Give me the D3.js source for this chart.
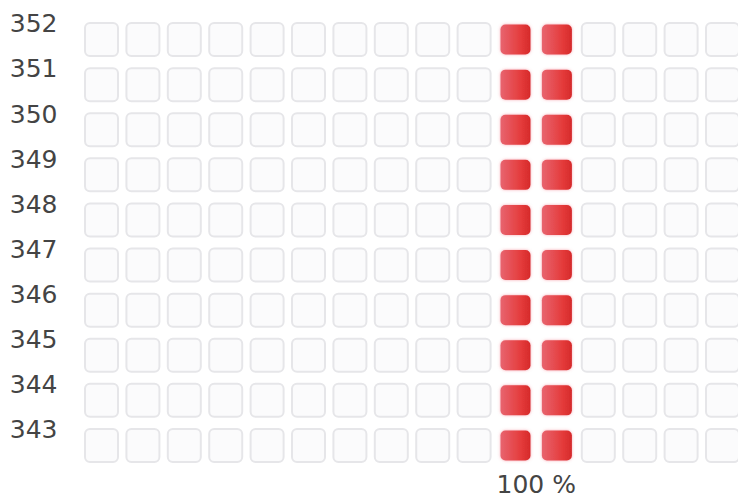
<!DOCTYPE html>
<html>
<head>
<meta charset="utf-8">
<script src="https://cdn.jsdelivr.net/npm/d3@7/dist/d3.min.js"></script>
<style>
  html, body { margin: 0; padding: 0; background: #fff; }
  svg { display: block; }
</style>
</head>
<body>
<div id="chart"></div>
<script>
// Rows (top to bottom) and percentage columns (each column is a 10 % slot, given by its lower bound)
const rowLabels = ["352", "351", "350", "349", "348", "347", "346", "345", "344", "343"];
const columnStarts = [-10, 0, 10, 20, 30, 40, 50, 60, 70, 80, 90, 100, 110, 120, 130, 140];
const columnWidth = 10;
// Slots that are filled, per row (the band around 100 %)
const filledStarts = [90, 100];
// Tick shown under the grid
const xTicks = [100];

const W = 738, H = 499;
const svg = d3.select("#chart").append("svg")
  .attr("width", W).attr("height", H);

const defs = svg.append("defs");
const grad = defs.append("linearGradient").attr("id", "redFill")
  .attr("x1", "0%").attr("x2", "100%").attr("y1", "0%").attr("y2", "0%");
grad.append("stop").attr("offset", "0%").attr("stop-color", "#e8646f");
grad.append("stop").attr("offset", "70%").attr("stop-color", "#e43a3a");
grad.append("stop").attr("offset", "100%").attr("stop-color", "#d52a2a");

const glow = defs.append("filter").attr("id", "glow")
  .attr("x", "-30%").attr("y", "-30%").attr("width", "160%").attr("height", "160%");
glow.append("feDropShadow").attr("dx", 0).attr("dy", 0)
  .attr("stdDeviation", 1.4).attr("flood-color", "#f06070").attr("flood-opacity", 0.55);

const x = d3.scaleLinear()
  .domain([d3.min(columnStarts), d3.max(columnStarts) + columnWidth])
  .range([80.8, 743.2]);

const y = d3.scaleBand()
  .domain(rowLabels)
  .range([17, 468])
  .paddingInner(0.268)
  .paddingOuter(0.134);

const gapX = 8.4;
const cells = [];
rowLabels.forEach(r => columnStarts.forEach(c => cells.push({ row: r, col: c, filled: filledStarts.includes(c) })));

const g = svg.append("g");

// Empty slots
g.selectAll("rect.empty").data(cells.filter(d => !d.filled)).join("rect")
  .attr("class", "empty")
  .attr("x", d => x(d.col) + gapX / 2)
  .attr("y", d => y(d.row))
  .attr("width", d => x(d.col + columnWidth) - x(d.col) - gapX)
  .attr("height", y.bandwidth())
  .attr("rx", 5).attr("ry", 5)
  .attr("fill", "#fbfbfc")
  .attr("stroke", "#e6e6e9")
  .attr("stroke-width", 2);

// Filled slots
const inset = 1.5;
g.selectAll("rect.filled").data(cells.filter(d => d.filled)).join("rect")
  .attr("class", "filled")
  .attr("x", d => x(d.col) + gapX / 2 + inset)
  .attr("y", d => y(d.row) + inset)
  .attr("width", d => x(d.col + columnWidth) - x(d.col) - gapX - 2 * inset)
  .attr("height", y.bandwidth() - 2 * inset)
  .attr("rx", 5).attr("ry", 5)
  .attr("fill", "url(#redFill)")
  .attr("filter", "url(#glow)");

// Row labels, set at the top edge of each row
svg.append("g").selectAll("text").data(rowLabels).join("text")
  .attr("x", 57.5)
  .attr("y", d => y(d) + 9.3)
  .attr("text-anchor", "end")
  .attr("font-family", "DejaVu Sans, sans-serif")
  .attr("font-size", 25)
  .attr("fill", "#444")
  .text(d => d);

// Percentage tick labels
svg.append("g").selectAll("text").data(xTicks).join("text")
  .attr("x", d => x(d))
  .attr("y", 493)
  .attr("text-anchor", "middle")
  .attr("font-family", "DejaVu Sans, sans-serif")
  .attr("font-size", 25)
  .attr("fill", "#444")
  .text(d => d + " %");
</script>
</body>
</html>
